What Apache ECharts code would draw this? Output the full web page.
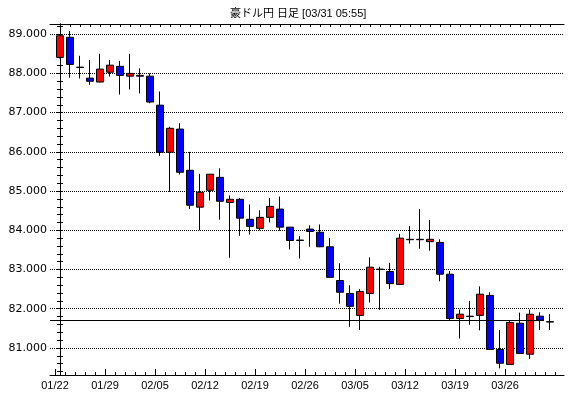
<!DOCTYPE html>
<html>
<head>
<meta charset="utf-8">
<script src="https://cdn.jsdelivr.net/npm/echarts@6/dist/echarts.min.js"></script>
<style>
html,body{margin:0;padding:0;background:#fff;}
#chart{width:570px;height:398px;}
</style>
</head>
<body>
<div id="chart"></div>
<script>
// trading days (Mon-Fri), 01/22 .. 03/30
const dates = [
  '01/22','01/23','01/24','01/25','01/26',
  '01/29','01/30','01/31','02/01','02/02',
  '02/05','02/06','02/07','02/08','02/09',
  '02/12','02/13','02/14','02/15','02/16',
  '02/19','02/20','02/21','02/22','02/23',
  '02/26','02/27','02/28','03/01','03/02',
  '03/05','03/06','03/07','03/08','03/09',
  '03/12','03/13','03/14','03/15','03/16',
  '03/19','03/20','03/21','03/22','03/23',
  '03/26','03/27','03/28','03/29','03/30'
];
const openV = [
  88.41,88.92,88.16,87.88,87.78, 88.03,88.18,87.93,87.95,87.93,
  87.19,85.99,86.58,85.53,84.59, 85.02,85.35,84.71,84.79,84.28,
  84.05,84.33,84.54,84.08,83.75, 84.03,83.95,83.58,82.72,82.39,
  81.83,82.39,83.00,82.95,82.62, 83.77,83.77,83.71,83.69,82.88,
  81.75,81.81,81.83,82.34,80.96, 80.58,81.63,80.84,81.81,81.67
];
const closeV = [
  88.96,88.23,88.15,87.80,88.11, 88.21,87.95,88.00,87.93,87.27,
  85.99,86.60,85.48,84.64,84.97, 85.43,84.74,84.79,84.31,84.10,
  84.33,84.61,84.08,83.74,83.74, 83.97,83.58,82.80,82.42,82.06,
  82.44,83.06,83.01,82.64,83.80, 83.76,83.76,83.77,82.88,81.75,
  81.86,81.80,82.37,80.96,80.61, 81.65,80.86,81.86,81.71,81.66
];
const lowV = [
  88.38,87.89,87.87,87.71,87.77, 87.92,87.46,87.59,87.49,87.24,
  85.90,84.98,85.42,84.54,84.00, 84.76,84.27,83.30,83.86,83.89,
  84.00,84.20,83.99,83.51,83.28, 83.58,83.57,82.80,82.13,81.54,
  81.46,82.16,81.97,82.50,82.62, 83.66,83.53,83.48,82.70,81.71,
  81.24,81.59,81.45,80.96,80.48, 80.58,80.86,80.72,81.46,81.46
];
const highV = [
  88.97,89.08,88.45,88.34,88.50, 88.34,88.32,88.50,88.13,88.00,
  87.54,86.64,86.73,86.00,85.44, 85.43,85.58,84.89,84.82,84.66,
  84.51,84.82,84.86,84.08,83.85, 84.13,84.15,83.80,83.16,82.60,
  82.50,83.31,83.07,83.17,83.91, 84.11,84.54,84.26,83.77,82.96,
  81.98,82.20,82.57,82.42,81.46, 81.69,81.90,81.98,81.91,81.86
];
const weekLabels = ['01/22','01/29','02/05','02/12','02/19','02/26','03/05','03/12','03/19','03/26'];
const yLabels = [81,82,83,84,85,86,87,88,89];
const currentPrice = 81.70;

const Y_MIN = 80.31, Y_MAX = 89.26;
const X_MIN = -1, X_MAX = 50.4;

// tick positions derived from the categories
const centerTicks = dates.map((d, i) => i);
const boundaryTicks = [-0.5].concat(dates.map((d, i) => i + 0.5));
const weekTicks = weekLabels.map(w => dates.indexOf(w) - 0.5);
const minorY = [];
for (let k = 1; ; k++) {
  const v = Math.round((80.2 + k * 0.2) * 10) / 10;
  if (v > Y_MAX) break;
  minorY.push(v);
}

const candles = dates.map((d, i) => [i, openV[i], closeV[i], lowV[i], highV[i]]);

const FONT = '"DejaVu Sans", "Noto Sans CJK JP", sans-serif';
const chart = echarts.init(document.getElementById('chart'));
chart.setOption({
  animation: false,
  backgroundColor: '#fff',
  title: {
    text: '豪ドル円 日足 [03/31 05:55]',
    left: 225, top: 3,
    textStyle: { fontSize: 11, fontWeight: 'normal', color: '#000',
      fontFamily: '"Liberation Sans", "Noto Sans CJK JP", sans-serif' }
  },
  grid: { left: 50, top: 24, width: 514, height: 351, show: false },
  xAxis: [
    { type: 'value', position: 'bottom', min: X_MIN, max: X_MAX, gridIndex: 0,
      axisLine: { show: true, lineStyle: { color: '#000', width: 1 } },
      axisTick: { show: true, inside: true, length: 6, customValues: weekTicks, lineStyle: { color: '#000' } },
      axisLabel: { show: true, customValues: weekTicks, margin: 5, color: '#000', fontSize: 11,
        fontFamily: '"Liberation Sans", sans-serif',
        formatter: v => weekLabels[weekTicks.findIndex(t => Math.abs(t - v) < 1e-6)] || '' },
      splitLine: { show: false } },
    { type: 'value', position: 'bottom', min: X_MIN, max: X_MAX, gridIndex: 0,
      axisLine: { show: false },
      axisTick: { show: true, inside: true, length: 3, customValues: boundaryTicks, lineStyle: { color: '#000' } },
      axisLabel: { show: false }, splitLine: { show: false } },
    { type: 'value', position: 'top', min: X_MIN, max: X_MAX, gridIndex: 0,
      axisLine: { show: true, lineStyle: { color: '#000', width: 1 } },
      axisTick: { show: true, inside: true, length: 3, customValues: centerTicks, lineStyle: { color: '#000' } },
      axisLabel: { show: false }, splitLine: { show: false } }
  ],
  yAxis: [
    { type: 'value', position: 'left', min: Y_MIN, max: Y_MAX, scale: true,
      axisLine: { show: true, lineStyle: { color: '#000', width: 1 } },
      axisTick: { show: true, inside: true, length: 3, customValues: yLabels, lineStyle: { color: '#000' } },
      axisLabel: { show: true, customValues: yLabels, margin: 3, color: '#000', fontSize: 11, fontFamily: FONT,
        formatter: v => v.toFixed(3) },
      splitLine: { show: true, lineStyle: { color: '#000', width: 1, type: [1, 1] } } },
    { type: 'value', position: 'left', min: Y_MIN, max: Y_MAX, scale: true,
      axisLine: { show: false },
      axisTick: { show: true, inside: true, length: 3, customValues: minorY, lineStyle: { color: '#000' } },
      axisLabel: { show: false }, splitLine: { show: false } },
    { type: 'value', position: 'right', min: Y_MIN, max: Y_MAX, scale: true,
      axisLine: { show: true, lineStyle: { color: '#000', width: 1 } },
      axisTick: { show: true, inside: true, length: 3, customValues: minorY, lineStyle: { color: '#000' } },
      axisLabel: { show: false }, splitLine: { show: false } }
  ],
  series: [{
    type: 'candlestick',
    xAxisIndex: 0, yAxisIndex: 0,
    data: candles,
    encode: { x: 0, y: [1, 2, 3, 4] },
    barWidth: 7,
    itemStyle: { color: '#ff0000', color0: '#0000ff', borderColor: '#000', borderColor0: '#000', borderWidth: 1 },
    markLine: {
      silent: true, symbol: 'none', animation: false,
      label: { show: false },
      lineStyle: { color: '#000', width: 1, type: 'solid' },
      data: [[{ coord: [X_MIN, currentPrice] }, { coord: [48.4, currentPrice] }]]
    }
  }]
});
</script>
</body>
</html>
